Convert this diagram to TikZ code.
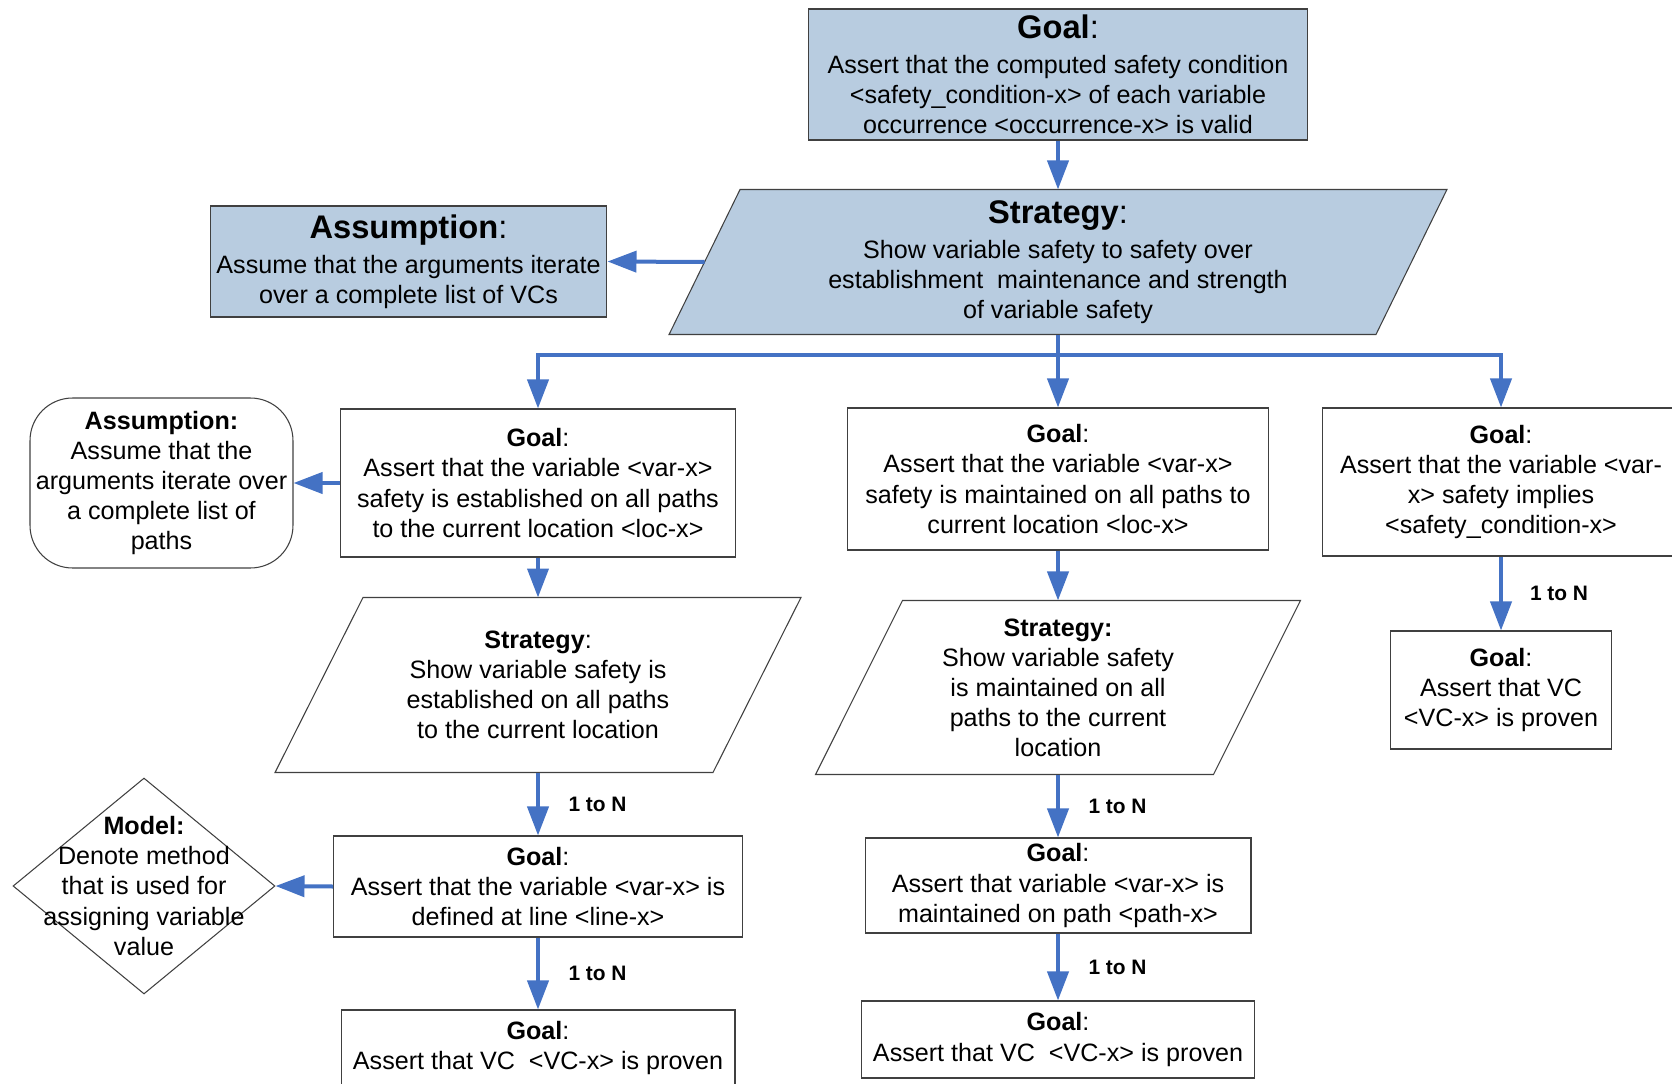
\documentclass[tikz,border=0pt]{standalone}
\usepackage{fontspec}
\setmainfont{Liberation Sans}
\usetikzlibrary{shapes.geometric,arrows.meta,backgrounds}

\definecolor{boxblue}{RGB}{184,204,224}
\definecolor{arrowblue}{RGB}{68,114,196}
\definecolor{boxgray}{RGB}{64,64,64}

\newcommand{\gbody}{\fontsize{14.3pt}{17.1pt}\selectfont}
\newcommand{\ghead}{\fontsize{18.6pt}{22pt}\selectfont}
\newcommand{\gcnt}{\fontsize{11.9pt}{14pt}\selectfont\bfseries}

\begin{document}
\begin{tikzpicture}[x=0.02cm, y=-0.02cm,
	box/.style={draw=boxgray, line width=0.6pt, inner sep=0pt, align=center, font=\gbody},
	topbox/.style={box, fill=boxblue},
	strat/.style={box, draw=none},
	pgram/.style={draw=boxgray, line width=0.6pt, line join=miter},
	arr/.style={-{Triangle[length=0.58cm,width=0.42cm]}, line width=0.08cm, draw=arrowblue},
	cnt/.style={right, inner sep=0pt, xshift=0.57cm, font=\gcnt}]
	\useasboundingbox (0,0) rectangle (1672,1084);

	% top level
	\node[topbox, minimum width=10cm, minimum height=2.62cm] (goal0) at (1058,74.5)
		{{\ghead\textbf{Goal}:}\\[2.8pt] Assert that the computed safety condition\\ <safety\_condition-x> of each variable\\ occurrence <occurrence-x> is valid};
	\node[strat, minimum width=14.12cm, minimum height=2.88cm] (strat0) at (1058,262)
		{{\ghead\textbf{Strategy}:}\\[3pt] Show variable safety to safety over\\ establishment\ \ maintenance and strength\\ of variable safety};
	\node[topbox, minimum width=7.94cm, minimum height=2.22cm] (asm0) at (408.5,261.5)
		{{\ghead\textbf{Assumption}:}\\[3pt] Assume that the arguments iterate\\ over a complete list of VCs};

	\draw[arr] (goal0.south) -- (strat0.north);
	\draw[arr] (strat0.west) -- (asm0.east);

	% second level
	\node[box, minimum width=7.9cm, minimum height=2.96cm] (gl1) at (538,483)
		{\textbf{Goal}:\\ Assert that the variable <var-x>\\ safety is established on all paths\\ to the current location <loc-x>};
	\node[box, minimum width=8.42cm, minimum height=2.84cm] (gm1) at (1058,479)
		{\textbf{Goal}:\\ Assert that the variable <var-x>\\ safety is maintained on all paths to\\ current location <loc-x>};
	\node[box, minimum width=7.16cm, minimum height=2.96cm] (gr1) at (1501,482)
		{\textbf{Goal}:\\ Assert that the variable <var-\\ x> safety implies\\ <safety\_condition-x>};
	\node[box, rounded corners=0.85cm, minimum width=5.26cm, minimum height=3.4cm] (asm1) at (161.5,483)
		{\textbf{Assumption:}\\ Assume that the\\ arguments iterate over\\ a complete list of\\ paths};

	\coordinate (bus) at (1058,355);
	\draw[arr] (strat0.south) -- (gm1.north);
	\draw[arr] (bus) -| (gl1.north);
	\draw[arr] (bus) -| (gr1.north);
	\draw[arr] (gl1.west) -- (asm1.east);

	% third level
	\node[strat, minimum width=8.74cm, minimum height=3.48cm] (sl2) at (538,685)
		{\textbf{Strategy}:\\ Show variable safety is\\ established on all paths\\ to the current location};
	\node[strat, minimum width=7.94cm, minimum height=3.46cm] (sm2) at (1058,687.5)
		{\textbf{Strategy:}\\ Show variable safety\\ is maintained on all\\ paths to the current\\ location};
	\node[box, minimum width=4.42cm, minimum height=2.36cm] (gr2) at (1501,690)
		{\textbf{Goal}:\\ Assert that VC\\ <VC-x> is proven};

	\draw[arr] (gl1.south) -- (sl2.north);
	\draw[arr] (gm1.south) -- (sm2.north);
	\draw[arr] (gr1.south) -- node[cnt, xshift=-0.03cm] (cr1) {1 to N} (gr2.north);

	% fourth level
	\node[box, minimum width=8.18cm, minimum height=2.02cm] (gl3) at (538,886.5)
		{\textbf{Goal}:\\ Assert that the variable <var-x> is\\ defined at line <line-x>};
	\node[box, minimum width=7.72cm, minimum height=1.9cm] (gm3) at (1058,885.5)
		{\textbf{Goal}:\\ Assert that variable <var-x> is\\ maintained on path <path-x>};
	\node[draw=boxgray, line width=0.6pt, diamond, inner sep=0pt, minimum width=5.24cm, minimum height=4.32cm] (mdl) at (144,886) {};
	\node[align=center, font=\gbody] (mdltxt) at (mdl.center)
		{\textbf{Model:}\\ Denote method\\ that is used for\\ assigning variable\\ value};

	\draw[arr] (sl2.south) -- node[cnt] (cl2) {1 to N} (gl3.north);
	\draw[arr] (sm2.south) -- node[cnt] (cm2) {1 to N} (gm3.north);
	\draw[arr] (gl3.west) -- (mdl.east);

	% bottom level
	\node[box, minimum width=7.88cm, minimum height=1.52cm] (gl4) at (538,1048)
		{\textbf{Goal}:\\ Assert that VC\ \ <VC-x> is proven};
	\node[box, minimum width=7.86cm, minimum height=1.54cm] (gm4) at (1058,1039.5)
		{\textbf{Goal}:\\ Assert that VC\ \ <VC-x> is proven};

	\draw[arr] (gl3.south) -- node[cnt] (cl3) {1 to N} (gl4.north);
	\draw[arr] (gm3.south) -- node[cnt] (cm3) {1 to N} (gm4.north);

	% strategy outlines behind the text
	\begin{pgfonlayer}{background}
		\draw[pgram, fill=boxblue] ([xshift=-0.71cm]strat0.south west) -- ([xshift=0.71cm]strat0.north west)
			-- ([xshift=0.71cm]strat0.north east) -- ([xshift=-0.71cm]strat0.south east) -- cycle;
		\draw[pgram] ([xshift=-0.88cm]sl2.south west) -- ([xshift=0.88cm]sl2.north west)
			-- ([xshift=0.88cm]sl2.north east) -- ([xshift=-0.88cm]sl2.south east) -- cycle;
		\draw[pgram] ([xshift=-0.87cm]sm2.south west) -- ([xshift=0.87cm]sm2.north west)
			-- ([xshift=0.87cm]sm2.north east) -- ([xshift=-0.87cm]sm2.south east) -- cycle;
	\end{pgfonlayer}
\end{tikzpicture}
\end{document}
